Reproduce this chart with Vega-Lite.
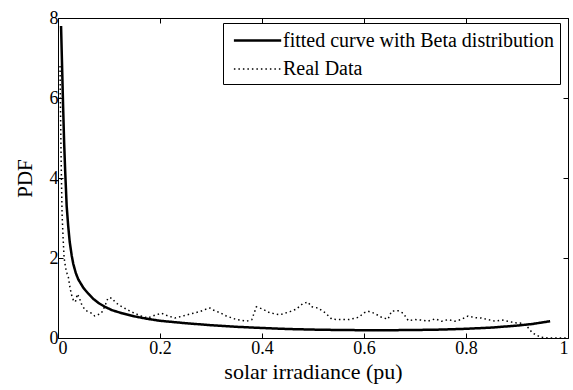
{
  "$schema": "https://vega.github.io/schema/vega-lite/v6.json",
  "width": 510,
  "height": 320,
  "autosize": {"type": "none"},
  "padding": {"left": 58, "top": 18, "right": 5, "bottom": 52},
  "background": "white",
  "config": {
    "view": {"stroke": "black", "strokeWidth": 1},
    "font": "Liberation Serif",
    "style": {
      "guide-label": {"font": "Liberation Serif", "fontSize": 18, "fill": "black"},
      "guide-title": {"font": "Liberation Serif", "fill": "black", "fontWeight": "normal"}
    },
    "axis": {
      "grid": false,
      "domain": false,
      "tickColor": "black",
      "tickSize": -5,
      "tickWidth": 1,
      "labelColor": "black",
      "labelFont": "Liberation Serif",
      "labelFontSize": 18,
      "titleFontWeight": "normal",
      "titleColor": "black"
    },
    "legend": {
      "orient": "none",
      "legendX": 165,
      "legendY": 5,
      "strokeColor": "black",
      "fillColor": "white",
      "padding": 5,
      "symbolType": "M-0.6,0H3.7",
      "symbolSize": 484,
      "symbolStrokeColor": "black",
      "labelFont": "Liberation Serif",
      "labelFontSize": 20,
      "labelColor": "black",
      "labelLimit": 0,
      "labelOffset": 30,
      "rowPadding": 6
    }
  },
  "data": {
    "values": [
      {"series": "fitted curve with Beta distribution", "x": 0.006, "y": 7.8},
      {"series": "fitted curve with Beta distribution", "x": 0.008, "y": 6.8},
      {"series": "fitted curve with Beta distribution", "x": 0.010, "y": 5.8},
      {"series": "fitted curve with Beta distribution", "x": 0.012, "y": 4.9},
      {"series": "fitted curve with Beta distribution", "x": 0.014, "y": 4.2},
      {"series": "fitted curve with Beta distribution", "x": 0.017, "y": 3.3},
      {"series": "fitted curve with Beta distribution", "x": 0.020, "y": 2.8},
      {"series": "fitted curve with Beta distribution", "x": 0.023, "y": 2.4},
      {"series": "fitted curve with Beta distribution", "x": 0.027, "y": 2.05},
      {"series": "fitted curve with Beta distribution", "x": 0.030, "y": 1.85},
      {"series": "fitted curve with Beta distribution", "x": 0.035, "y": 1.62},
      {"series": "fitted curve with Beta distribution", "x": 0.040, "y": 1.46},
      {"series": "fitted curve with Beta distribution", "x": 0.050, "y": 1.25},
      {"series": "fitted curve with Beta distribution", "x": 0.060, "y": 1.1},
      {"series": "fitted curve with Beta distribution", "x": 0.070, "y": 0.97},
      {"series": "fitted curve with Beta distribution", "x": 0.080, "y": 0.87},
      {"series": "fitted curve with Beta distribution", "x": 0.092, "y": 0.78},
      {"series": "fitted curve with Beta distribution", "x": 0.105, "y": 0.70},
      {"series": "fitted curve with Beta distribution", "x": 0.125, "y": 0.62},
      {"series": "fitted curve with Beta distribution", "x": 0.15, "y": 0.54},
      {"series": "fitted curve with Beta distribution", "x": 0.175, "y": 0.48},
      {"series": "fitted curve with Beta distribution", "x": 0.2, "y": 0.43},
      {"series": "fitted curve with Beta distribution", "x": 0.25, "y": 0.37},
      {"series": "fitted curve with Beta distribution", "x": 0.3, "y": 0.32},
      {"series": "fitted curve with Beta distribution", "x": 0.35, "y": 0.28},
      {"series": "fitted curve with Beta distribution", "x": 0.4, "y": 0.25},
      {"series": "fitted curve with Beta distribution", "x": 0.45, "y": 0.225},
      {"series": "fitted curve with Beta distribution", "x": 0.5, "y": 0.21},
      {"series": "fitted curve with Beta distribution", "x": 0.55, "y": 0.2},
      {"series": "fitted curve with Beta distribution", "x": 0.6, "y": 0.195},
      {"series": "fitted curve with Beta distribution", "x": 0.65, "y": 0.195},
      {"series": "fitted curve with Beta distribution", "x": 0.7, "y": 0.2},
      {"series": "fitted curve with Beta distribution", "x": 0.75, "y": 0.21},
      {"series": "fitted curve with Beta distribution", "x": 0.8, "y": 0.23},
      {"series": "fitted curve with Beta distribution", "x": 0.85, "y": 0.26},
      {"series": "fitted curve with Beta distribution", "x": 0.9, "y": 0.31},
      {"series": "fitted curve with Beta distribution", "x": 0.93, "y": 0.35},
      {"series": "fitted curve with Beta distribution", "x": 0.95, "y": 0.39},
      {"series": "fitted curve with Beta distribution", "x": 0.965, "y": 0.42},
      {"series": "Real Data", "x": 0.004, "y": 6.8},
      {"series": "Real Data", "x": 0.005, "y": 5.6},
      {"series": "Real Data", "x": 0.006, "y": 4.6},
      {"series": "Real Data", "x": 0.007, "y": 3.8},
      {"series": "Real Data", "x": 0.008, "y": 3.1},
      {"series": "Real Data", "x": 0.010, "y": 2.5},
      {"series": "Real Data", "x": 0.012, "y": 2.0},
      {"series": "Real Data", "x": 0.015, "y": 1.75},
      {"series": "Real Data", "x": 0.018, "y": 1.6},
      {"series": "Real Data", "x": 0.020, "y": 1.55},
      {"series": "Real Data", "x": 0.023, "y": 1.3},
      {"series": "Real Data", "x": 0.026, "y": 1.1},
      {"series": "Real Data", "x": 0.030, "y": 0.95},
      {"series": "Real Data", "x": 0.034, "y": 0.9},
      {"series": "Real Data", "x": 0.038, "y": 1.1},
      {"series": "Real Data", "x": 0.042, "y": 1.0},
      {"series": "Real Data", "x": 0.046, "y": 0.85},
      {"series": "Real Data", "x": 0.053, "y": 0.7},
      {"series": "Real Data", "x": 0.060, "y": 0.65},
      {"series": "Real Data", "x": 0.066, "y": 0.62},
      {"series": "Real Data", "x": 0.072, "y": 0.55},
      {"series": "Real Data", "x": 0.078, "y": 0.58},
      {"series": "Real Data", "x": 0.085, "y": 0.62},
      {"series": "Real Data", "x": 0.092, "y": 0.8},
      {"series": "Real Data", "x": 0.098, "y": 1.0},
      {"series": "Real Data", "x": 0.105, "y": 1.0},
      {"series": "Real Data", "x": 0.112, "y": 0.9},
      {"series": "Real Data", "x": 0.12, "y": 0.82},
      {"series": "Real Data", "x": 0.13, "y": 0.75},
      {"series": "Real Data", "x": 0.14, "y": 0.68},
      {"series": "Real Data", "x": 0.15, "y": 0.62},
      {"series": "Real Data", "x": 0.163, "y": 0.55},
      {"series": "Real Data", "x": 0.176, "y": 0.5},
      {"series": "Real Data", "x": 0.19, "y": 0.57},
      {"series": "Real Data", "x": 0.203, "y": 0.62},
      {"series": "Real Data", "x": 0.216, "y": 0.55},
      {"series": "Real Data", "x": 0.229, "y": 0.5},
      {"series": "Real Data", "x": 0.242, "y": 0.54},
      {"series": "Real Data", "x": 0.259, "y": 0.6},
      {"series": "Real Data", "x": 0.278, "y": 0.66},
      {"series": "Real Data", "x": 0.29, "y": 0.72},
      {"series": "Real Data", "x": 0.298, "y": 0.75},
      {"series": "Real Data", "x": 0.304, "y": 0.7},
      {"series": "Real Data", "x": 0.318, "y": 0.63},
      {"series": "Real Data", "x": 0.33, "y": 0.55},
      {"series": "Real Data", "x": 0.35, "y": 0.46},
      {"series": "Real Data", "x": 0.37, "y": 0.42},
      {"series": "Real Data", "x": 0.38, "y": 0.46},
      {"series": "Real Data", "x": 0.389, "y": 0.78},
      {"series": "Real Data", "x": 0.402, "y": 0.72},
      {"series": "Real Data", "x": 0.415, "y": 0.63},
      {"series": "Real Data", "x": 0.435, "y": 0.58},
      {"series": "Real Data", "x": 0.455, "y": 0.66},
      {"series": "Real Data", "x": 0.467, "y": 0.72},
      {"series": "Real Data", "x": 0.48, "y": 0.86},
      {"series": "Real Data", "x": 0.49, "y": 0.9},
      {"series": "Real Data", "x": 0.497, "y": 0.78},
      {"series": "Real Data", "x": 0.51, "y": 0.75},
      {"series": "Real Data", "x": 0.524, "y": 0.63},
      {"series": "Real Data", "x": 0.537, "y": 0.47},
      {"series": "Real Data", "x": 0.55, "y": 0.46},
      {"series": "Real Data", "x": 0.57, "y": 0.46},
      {"series": "Real Data", "x": 0.59, "y": 0.52},
      {"series": "Real Data", "x": 0.6, "y": 0.63},
      {"series": "Real Data", "x": 0.608, "y": 0.67},
      {"series": "Real Data", "x": 0.62, "y": 0.62},
      {"series": "Real Data", "x": 0.634, "y": 0.52},
      {"series": "Real Data", "x": 0.647, "y": 0.47},
      {"series": "Real Data", "x": 0.654, "y": 0.67},
      {"series": "Real Data", "x": 0.667, "y": 0.68},
      {"series": "Real Data", "x": 0.677, "y": 0.62},
      {"series": "Real Data", "x": 0.687, "y": 0.43},
      {"series": "Real Data", "x": 0.7, "y": 0.46},
      {"series": "Real Data", "x": 0.712, "y": 0.45},
      {"series": "Real Data", "x": 0.725, "y": 0.42},
      {"series": "Real Data", "x": 0.74, "y": 0.48},
      {"series": "Real Data", "x": 0.752, "y": 0.42},
      {"series": "Real Data", "x": 0.765, "y": 0.46},
      {"series": "Real Data", "x": 0.778, "y": 0.42},
      {"series": "Real Data", "x": 0.79, "y": 0.46},
      {"series": "Real Data", "x": 0.804, "y": 0.55},
      {"series": "Real Data", "x": 0.817, "y": 0.51},
      {"series": "Real Data", "x": 0.83, "y": 0.5},
      {"series": "Real Data", "x": 0.843, "y": 0.46},
      {"series": "Real Data", "x": 0.857, "y": 0.42},
      {"series": "Real Data", "x": 0.87, "y": 0.45},
      {"series": "Real Data", "x": 0.882, "y": 0.42},
      {"series": "Real Data", "x": 0.896, "y": 0.38},
      {"series": "Real Data", "x": 0.909, "y": 0.37},
      {"series": "Real Data", "x": 0.919, "y": 0.3},
      {"series": "Real Data", "x": 0.925, "y": 0.21},
      {"series": "Real Data", "x": 0.93, "y": 0.13},
      {"series": "Real Data", "x": 0.94, "y": 0.06},
      {"series": "Real Data", "x": 0.946, "y": 0.02},
      {"series": "Real Data", "x": 0.96, "y": 0},
      {"series": "Real Data", "x": 1.0, "y": 0}
    ]
  },
  "encoding": {
    "x": {
      "field": "x",
      "type": "quantitative",
      "scale": {"domain": [0, 1], "nice": false, "zero": false}
    },
    "y": {
      "field": "y",
      "type": "quantitative",
      "scale": {"domain": [0, 8], "nice": false}
    },
    "strokeDash": {
      "field": "series",
      "type": "nominal",
      "scale": {
        "domain": ["fitted curve with Beta distribution", "Real Data"],
        "range": [[1, 0], [1.5, 3]]
      },
      "legend": {"title": null}
    },
    "strokeWidth": {
      "field": "series",
      "type": "nominal",
      "scale": {
        "domain": ["fitted curve with Beta distribution", "Real Data"],
        "range": [2.5, 1.5]
      },
      "legend": {"title": null}
    }
  },
  "layer": [
    {
      "transform": [{"filter": "datum.series === 'Real Data'"}],
      "mark": {"type": "line", "color": "black", "clip": true},
      "encoding": {
        "x": {
          "field": "x",
          "type": "quantitative",
          "axis": {"orient": "top", "values": [0, 0.2, 0.4, 0.6, 0.8, 1], "labels": false, "title": null}
        },
        "y": {
          "field": "y",
          "type": "quantitative",
          "axis": {"orient": "right", "values": [0, 2, 4, 6, 8], "labels": false, "title": null}
        }
      }
    },
    {
      "transform": [{"filter": "datum.series !== 'Real Data'"}],
      "mark": {"type": "line", "color": "black", "clip": true},
      "encoding": {
        "x": {
          "field": "x",
          "type": "quantitative",
          "axis": {
            "orient": "bottom",
            "values": [0, 0.2, 0.4, 0.6, 0.8, 1],
            "format": "~g",
            "labelFont": "Liberation Serif",
            "labelFontSize": 18,
            "labelPadding": 6,
            "title": "solar irradiance (pu)",
            "titleFont": "Liberation Serif",
            "titleFontSize": 22,
            "titlePadding": 4
          }
        },
        "y": {
          "field": "y",
          "type": "quantitative",
          "axis": {
            "orient": "left",
            "values": [0, 2, 4, 6, 8],
            "format": "d",
            "labelFont": "Liberation Serif",
            "labelFontSize": 18,
            "labelPadding": 5,
            "title": "PDF",
            "titleFont": "Liberation Serif",
            "titleFontSize": 21,
            "titlePadding": 14
          }
        }
      }
    }
  ],
  "resolve": {"axis": {"x": "independent", "y": "independent"}}
}
